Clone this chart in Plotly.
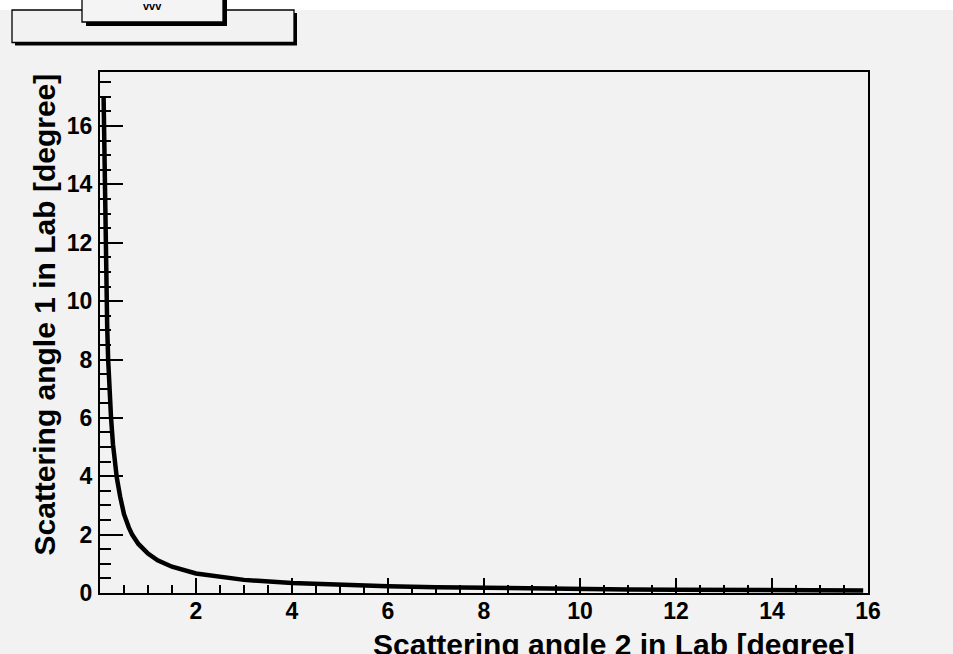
import plotly.graph_objects as go

# ---- data ----
x_angle2 = [0.075, 0.08, 0.09, 0.10, 0.11, 0.13, 0.15, 0.17, 0.19, 0.23, 0.27, 0.32,
            0.35, 0.42, 0.50, 0.60, 0.67, 0.80, 1.00, 1.20, 1.50, 2.00, 2.70, 3.00,
            4.00, 5.00, 6.00, 7.00, 8.00, 9.00, 10.0, 11.0, 12.0, 13.0, 14.0, 15.0, 15.9]
y_angle1 = [17.0, 16.3, 15.0, 13.6, 12.4, 10.6, 9.1, 8.0, 7.1, 6.0, 5.1, 4.2,
            3.95, 3.3, 2.7, 2.25, 2.0, 1.68, 1.35, 1.12, 0.90, 0.67, 0.50, 0.45,
            0.34, 0.27, 0.23, 0.195, 0.17, 0.15, 0.135, 0.123, 0.113, 0.104, 0.096, 0.09, 0.085]

x_ticks = [0, 2, 4, 6, 8, 10, 12, 14, 16]
x_ticktext = ["", "2", "4", "6", "8", "10", "12", "14", "16"]
y_ticks = [0, 2, 4, 6, 8, 10, 12, 14, 16]

x_title = "Scattering angle 2 in Lab [degree]"
y_title = "Scattering angle 1 in Lab [degree]"
box_text = "vvv"

W, H = 953, 654
X0, X1, Y0, Y1 = 100, 868, 72, 593  # plot area in pixels
BG = "#f2f2f2"
FONT = "Liberation Sans"


def px(xp):
    return (xp - X0) / (X1 - X0)


def py(yp):
    return (Y1 - yp) / (Y1 - Y0)


fig = go.Figure()
fig.add_trace(go.Scatter(x=x_angle2, y=y_angle1, mode="lines",
                         line=dict(color="black", width=4.5), showlegend=False))

axis_common = dict(showgrid=False, zeroline=False, showline=True, linecolor="black",
                   linewidth=2, mirror=True, ticks="inside", tickcolor="black",
                   tickwidth=1.5,
                   tickfont=dict(family=FONT, size=23, color="black", weight="bold"))

fig.update_xaxes(range=[0, 16], tickmode="array", tickvals=x_ticks, ticktext=x_ticktext,
                 ticklen=15, ticklabelstandoff=-4,
                 minor=dict(tickmode="linear", tick0=0, dtick=0.5, ticks="inside",
                            ticklen=8, tickcolor="black", tickwidth=1.5),
                 **axis_common)
fig.update_yaxes(range=[0, 17.85], tickmode="array", tickvals=y_ticks, ticklen=23,
                 ticklabelstandoff=1,
                 minor=dict(tickmode="linear", tick0=0, dtick=0.5, ticks="inside",
                            ticklen=11, tickcolor="black", tickwidth=1.5),
                 **axis_common)

shapes = []
# white strip at very top
shapes.append(dict(type="rect", xref="paper", yref="paper", x0=px(0), x1=px(W),
                   y0=py(0), y1=py(10), fillcolor="white", line=dict(width=0), layer="above"))
# big pave: shadow then box
shapes.append(dict(type="rect", xref="paper", yref="paper", x0=px(15), x1=px(297),
                   y0=py(13), y1=py(45.5), fillcolor="black", line=dict(width=0), layer="above"))
shapes.append(dict(type="rect", xref="paper", yref="paper", x0=px(12), x1=px(294),
                   y0=py(10), y1=py(42.5), fillcolor=BG, line=dict(color="black", width=1.3),
                   layer="above"))
# small pave: shadow then box
shapes.append(dict(type="rect", xref="paper", yref="paper", x0=px(86), x1=px(227),
                   y0=py(-5), y1=py(26), fillcolor="black", line=dict(width=0), layer="above"))
shapes.append(dict(type="rect", xref="paper", yref="paper", x0=px(82), x1=px(223),
                   y0=py(-5), y1=py(22), fillcolor="#f4f4f4", line=dict(color="black", width=1.3),
                   layer="above"))

annotations = [
    dict(text=x_title, xref="paper", yref="paper", x=px(857), y=py(626),
         xanchor="right", yanchor="top", showarrow=False,
         font=dict(family=FONT, size=30, color="black", weight="bold")),
    dict(text=y_title, xref="paper", yref="paper", x=px(25), y=py(72),
         xanchor="left", yanchor="top", textangle=-90, showarrow=False,
         font=dict(family=FONT, size=30, color="black", weight="bold")),
    dict(text=box_text, xref="paper", yref="paper", x=px(152), y=py(14),
         xanchor="center", yanchor="bottom", showarrow=False,
         font=dict(family=FONT, size=11, color="black", weight="bold")),
]

fig.update_layout(width=W, height=H, margin=dict(l=X0, r=W - X1, t=Y0, b=H - Y1, pad=0),
                  paper_bgcolor=BG, plot_bgcolor=BG, shapes=shapes, annotations=annotations,
                  showlegend=False)

fig.write_html("out.html", config={"displayModeBar": False},
               post_script="document.body.style.margin='0';")
